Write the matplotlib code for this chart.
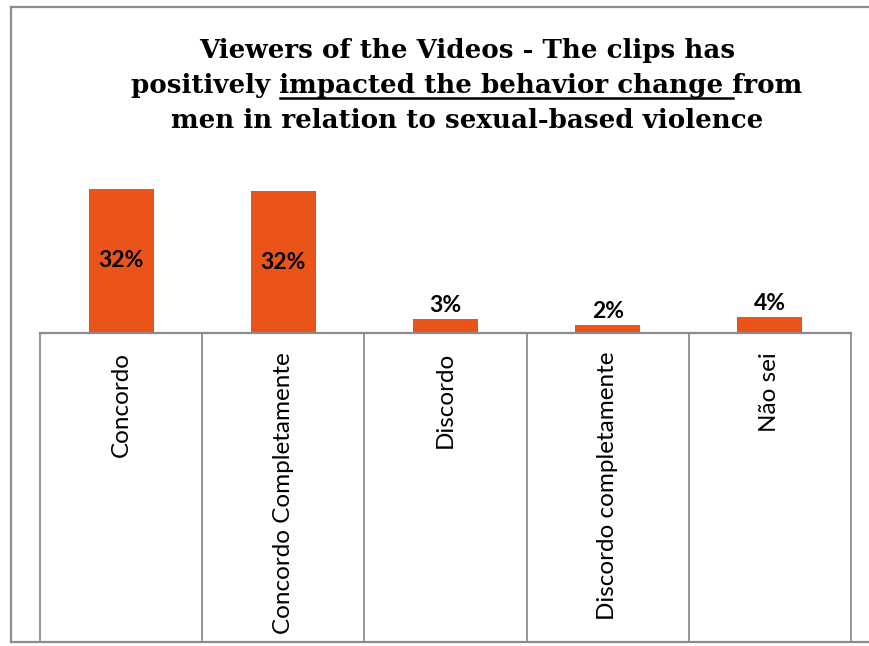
import matplotlib
matplotlib.use('Agg')
import matplotlib.pyplot as plt
from matplotlib.lines import Line2D

categories = ['Concordo', 'Concordo Completamente', 'Discordo',
              'Discordo completamente', 'Não sei']
shares = [0.323, 0.318, 0.031, 0.018, 0.036]

title_line1 = 'Viewers of the Videos - The clips has'
title_line2 = ['positively', 'impacted the behavior change', 'from']
title_line3 = 'men in relation to sexual-based violence'

W, H = 869, 646
BAR_COLOR = '#EA5418'
GRID = '#8C8C8C'
TITLE_FONT = 'DejaVu Serif'
LABEL_FONT = 'Lato'

fig = plt.figure(figsize=(W / 100, H / 100), dpi=100)


def fx(x):
    return x / W


def fy(y):
    # pixel rows counted from the top
    return 1 - y / H


# outer frame
for xs, ys in [([11, 11], [7, 642]), ([11, W + 5], [7, 7]), ([11, W + 5], [642, 642])]:
    fig.add_artist(Line2D([fx(v) for v in xs], [fy(v) for v in ys],
                          color=GRID, lw=1.6, transform=fig.transFigure))

left, right, base, top = 40, 851, 333, 150
ax = fig.add_axes([fx(left), fy(base), fx(right - left), (base - top) / H])
ax.set_xlim(-0.5, len(categories) - 0.5)
ax.set_ylim(0, 41)
ax.axis('off')

pct = [v * 100 for v in shares]
ax.bar(range(len(categories)), pct, width=0.40, color=BAR_COLOR, zorder=2)
for i, v in enumerate(pct):
    label = f'{v:.0f}%'
    if v > 10:
        ax.text(i, v / 2, label, ha='center', va='center', fontsize=16.5,
                fontweight='bold', family=LABEL_FONT, color='black', zorder=3)
    else:
        ax.annotate(label, (i, v), xytext=(0, 2), textcoords='offset points',
                    ha='center', va='bottom', fontsize=16.5, fontweight='bold',
                    family=LABEL_FONT, color='black')

# category table under the baseline
fig.add_artist(Line2D([fx(left), fx(right)], [fy(base), fy(base)],
                      color=GRID, lw=1.6, transform=fig.transFigure))
step = (right - left) / len(categories)
for k in range(len(categories) + 1):
    x = left + k * step
    fig.add_artist(Line2D([fx(x), fx(x)], [fy(base), fy(640)],
                          color=GRID, lw=1.3, transform=fig.transFigure))
for k, name in enumerate(categories):
    fig.text(fx(left + (k + 0.5) * step), fy(352), name, rotation=90,
             ha='center', va='top', fontsize=17.5, family=LABEL_FONT)

# title, centred line by line, with part of line two underlined
cx = 467
tkw = dict(fontsize=18.8, fontweight='bold', family=TITLE_FONT, va='baseline')
fig.text(fx(cx), fy(58), title_line1, ha='center', **tkw)
fig.text(fx(cx), fy(128.5), title_line3, ha='center', **tkw)

renderer = fig.canvas.get_renderer()


def width(s):
    t = fig.text(0, 0, s, **tkw)
    w = t.get_window_extent(renderer).width
    t.remove()
    return w


space = width('a a') - width('aa')
full = ' '.join(title_line2)
x0 = cx - width(full) / 2
fig.text(fx(x0), fy(93.5), full, ha='left', **tkw)
u0 = x0 + width(title_line2[0]) + space
u1 = u0 + width(title_line2[1]) + space
fig.add_artist(Line2D([fx(u0), fx(u1)], [fy(97.5), fy(97.5)], color='black',
                      lw=1.8, transform=fig.transFigure))

fig.savefig('out.png', dpi=100, facecolor='white')
